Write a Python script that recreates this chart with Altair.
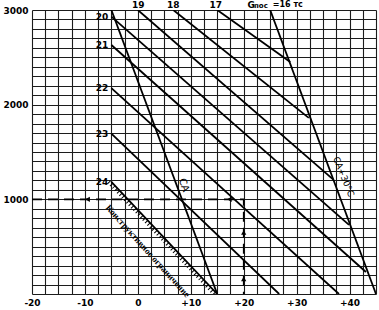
import altair as alt
import pandas as pd

# ---- data ----
weights = ["17", "18", "19", "20", "21", "22", "23", "24"]
start_t = [15.0, 6.7, 0.0, -5.0, -5.0, -5.0, -5.0, -5.0]
start_h = [3000, 3000, 3000, 2930, 2630, 2175, 1695, 1185]
end_t = [28.8, 32.3, 37.0, 39.9, 43.1, 38.0, 26.7, 15.0]
end_h = [2450, 1860, 1205, 730, 232, 0, 0, 0]

limit_names = ["СА", "СА+30°С"]
limit_top_t = [-5.0, 25.0]
limit_top_h = [3000, 3000]
limit_bot_t = [15.0, 45.0]
limit_bot_h = [0, 0]

guide_t = [-20, 20, 20]
guide_h = [1000, 1000, 0]
arrow_t = [-9.5, 17.3, 20, 20]
arrow_h = [1000, 1000, 650, 160]
arrow_shape = ["triangle-left", "triangle-left", "triangle-up", "triangle-up"]

top_labels = ["19", "18", "17"]
top_label_t = [0.1, 6.7, 14.7]

x_grid = [-20 + 2.5 * i for i in range(27)]
y_grid = list(range(0, 3001, 100))

# ---- tables ----
rows = []
for w, t0, h0, t1, h1 in zip(weights, start_t, start_h, end_t, end_h):
    rows.append({"line": w, "t": t0, "h": h0, "o": 0})
    rows.append({"line": w, "t": t1, "h": h1, "o": 1})
for n, t0, h0, t1, h1 in zip(limit_names, limit_top_t, limit_top_h, limit_bot_t, limit_bot_h):
    rows.append({"line": n, "t": t0, "h": h0, "o": 0})
    rows.append({"line": n, "t": t1, "h": h1, "o": 1})
lines_df = pd.DataFrame(rows)
hatch_df = lines_df[lines_df["line"] == "24"]
guide_df = pd.DataFrame({"t": guide_t, "h": guide_h, "o": list(range(len(guide_t)))})
arrow_df = pd.DataFrame({"t": arrow_t, "h": arrow_h, "s": arrow_shape})
left_df = pd.DataFrame({"t": [-5.6] * 5, "h": start_h[3:], "lab": weights[3:]})
top_df = pd.DataFrame({"t": top_label_t, "h": [3052] * 3, "lab": top_labels})

xs = alt.Scale(domain=[-20, 45], nice=False, zero=False)
ys = alt.Scale(domain=[0, 3000], nice=False, zero=False)
xa = alt.Axis(values=x_grid, grid=True, gridColor="#1c1c1c", gridWidth=1.1,
              ticks=False, domain=False, labelFont="DejaVu Sans", labelFontSize=9,
              labelFontWeight="bold", labelColor="black", labelPadding=4,
              labelOverlap=False, labelFlush=False,
              labelExpr="(datum.value % 10 == 0 && datum.value < 45) ? (datum.value > 0 ? '+' + datum.value : '' + datum.value) : ''")
ya = alt.Axis(values=y_grid, grid=True, gridColor="#1c1c1c", gridWidth=1.1,
              ticks=False, domain=False, labelFont="DejaVu Sans", labelFontSize=9,
              labelFontWeight="bold", labelColor="black", labelPadding=4,
              labelOverlap=False, labelFlush=False,
              labelExpr="(datum.value >= 1000 && datum.value % 1000 == 0) ? '' + datum.value : ''")


def X(f):
    return alt.X(f, scale=xs, axis=xa, title=None)


def Y(f):
    return alt.Y(f, scale=ys, axis=ya, title=None)


lines = alt.Chart(lines_df).mark_line(color="black", strokeWidth=1.8, clip=True).encode(
    x=X("t:Q"), y=Y("h:Q"), detail="line:N", order="o:Q")

hatch = alt.Chart(hatch_df).transform_calculate(th="datum.t - 0.5").mark_line(
    color="black", strokeWidth=4, strokeDash=[1, 2.4], clip=True).encode(
    x=X("th:Q"), y=Y("h:Q"), order="o:Q")

guide = alt.Chart(guide_df).mark_line(color="black", strokeWidth=1.6, strokeDash=[10, 6]).encode(
    x=X("t:Q"), y=Y("h:Q"), order="o:Q")

arrows = alt.Chart(arrow_df).mark_point(filled=True, color="black", size=28, opacity=1).encode(
    x=X("t:Q"), y=Y("h:Q"), shape=alt.Shape("s:N", scale=None))

left_lab = alt.Chart(left_df).mark_text(align="right", baseline="middle", font="DejaVu Sans",
                                        fontSize=9, fontWeight="bold", color="black").encode(
    x=X("t:Q"), y=Y("h:Q"), text="lab:N")

top_lab = alt.Chart(top_df).mark_text(align="center", baseline="middle", font="DejaVu Sans",
                                      fontSize=9, fontWeight="bold", color="black").encode(
    x=X("t:Q"), y=Y("h:Q"), text="lab:N")

g_df = pd.DataFrame({"t": [20.7], "h": [3052], "lab": ["G"]})
g_lab = alt.Chart(g_df).mark_text(align="left", baseline="middle", font="DejaVu Sans",
                                  fontSize=9, fontWeight="bold", color="black").encode(
    x=X("t:Q"), y=Y("h:Q"), text="lab:N")
pos_df = pd.DataFrame({"t": [21.95], "h": [3040], "lab": ["пос"]})
pos_lab = alt.Chart(pos_df).mark_text(align="left", baseline="middle", font="DejaVu Sans",
                                      fontSize=7, fontWeight="bold", color="black").encode(
    x=X("t:Q"), y=Y("h:Q"), text="lab:N")
eq_df = pd.DataFrame({"t": [25.5], "h": [3052], "lab": ["=16 тс"]})
eq_lab = alt.Chart(eq_df).mark_text(align="left", baseline="middle", font="DejaVu Sans",
                                    fontSize=8, fontWeight="bold", color="black").encode(
    x=X("t:Q"), y=Y("h:Q"), text="lab:N")

ca_df = pd.DataFrame({"t": [8.7], "h": [1150], "lab": ["СА"]})
ca_lab = alt.Chart(ca_df).mark_text(align="center", baseline="middle", font="DejaVu Sans",
                                    fontSize=10, angle=70, color="black").encode(
    x=X("t:Q"), y=Y("h:Q"), text="lab:N")
ca30_df = pd.DataFrame({"t": [38.9], "h": [1240], "lab": ["СА+30°С"]})
ca30_lab = alt.Chart(ca30_df).mark_text(align="center", baseline="middle", font="DejaVu Sans",
                                        fontSize=9, angle=68, color="black").encode(
    x=X("t:Q"), y=Y("h:Q"), text="lab:N")
kon_df = pd.DataFrame({"t": [1.9], "h": [455], "lab": ["Конструктивное  ограничение"]})
kon_lab = alt.Chart(kon_df).mark_text(align="center", baseline="middle", font="Liberation Serif",
                                      fontSize=9, fontWeight="bold", angle=48, color="black").encode(
    x=X("t:Q"), y=Y("h:Q"), text="lab:N")

chart = alt.layer(
    lines, hatch, guide, arrows, left_lab, top_lab, g_lab, pos_lab, eq_lab,
    ca_lab, ca30_lab, kon_lab
).properties(
    width=344, height=284, autosize="none",
    padding={"left": 32, "top": 10, "right": 3, "bottom": 16},
    background="white"
).configure_view(stroke=None)

chart.save("out.html", embed_options={"renderer": "svg", "actions": False})
